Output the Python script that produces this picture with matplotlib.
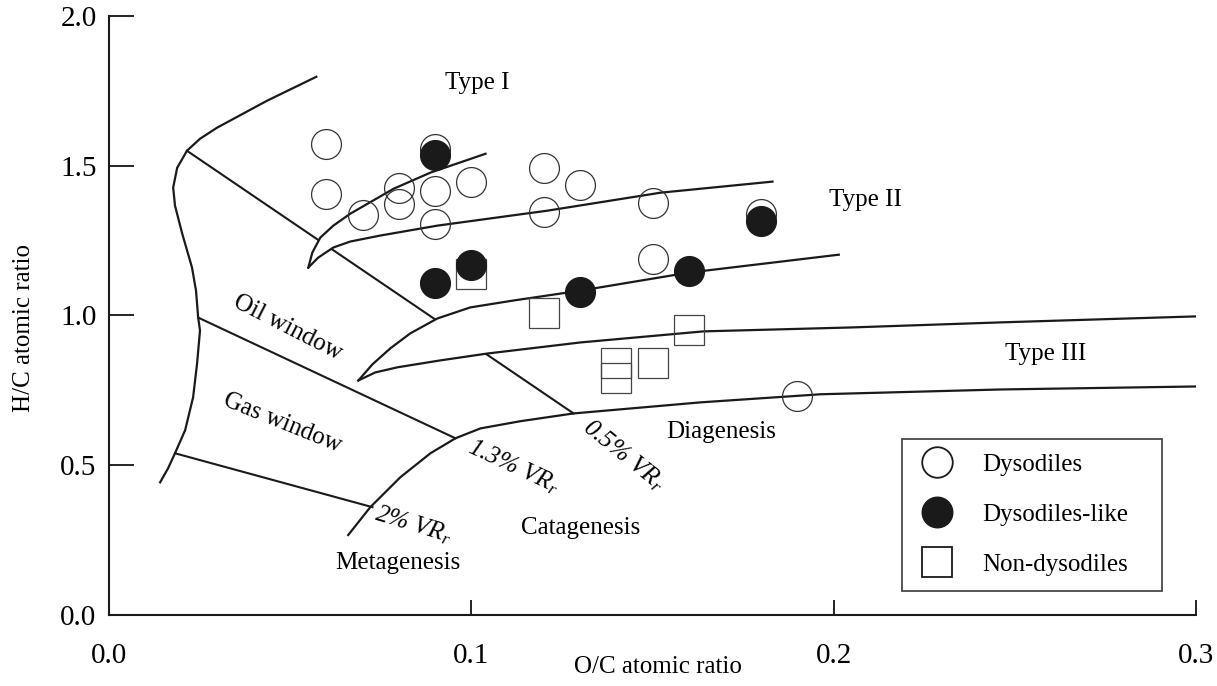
"""
Van Krevelen diagram: H/C vs O/C atomic ratio of dysodiles samples
"""

import numpy as np
import matplotlib
matplotlib.use('Agg')
import matplotlib.pyplot as plt
from matplotlib.lines import Line2D

plt.rcParams['font.family'] = ['Liberation Serif', 'DejaVu Serif']
plt.rcParams['mathtext.fontset'] = 'custom'
plt.rcParams['mathtext.rm'] = 'Liberation Serif'
plt.rcParams['mathtext.it'] = 'Liberation Serif:italic'

# samples (O/C, H/C)
dys_oc = [0.06, 0.06, 0.07, 0.08, 0.08, 0.09, 0.09, 0.09, 0.10, 0.12, 0.12, 0.13, 0.15, 0.15, 0.18, 0.19]
dys_hc = [1.573, 1.407, 1.337, 1.427, 1.373, 1.557, 1.417, 1.307, 1.447, 1.493, 1.347, 1.437, 1.377, 1.19, 1.34, 0.73]

like_oc = [0.09, 0.09, 0.10, 0.13, 0.16, 0.18]
like_hc = [1.537, 1.107, 1.17, 1.077, 1.147, 1.317]

non_oc = [0.10, 0.12, 0.14, 0.14, 0.15, 0.16]
non_hc = [1.137, 1.007, 0.84, 0.79, 0.84, 0.95]

# outer boundary of the evolution paths
bound_x = [0.0141, 0.0163, 0.0182, 0.0210, 0.0232, 0.0243, 0.0251, 0.0246, 0.0240, 0.0229,
           0.0202, 0.0182, 0.0177, 0.0188, 0.0215, 0.0251, 0.0298, 0.0436, 0.0572]
bound_y = [0.443, 0.490, 0.540, 0.617, 0.727, 0.840, 0.950, 0.993, 1.083, 1.160,
           1.273, 1.367, 1.427, 1.493, 1.550, 1.590, 1.627, 1.717, 1.797]

# Type I band
t1_up_x = [0.0550, 0.0561, 0.0583, 0.0619, 0.0666, 0.0785, 0.0887, 0.1039]
t1_up_y = [1.160, 1.210, 1.260, 1.300, 1.340, 1.423, 1.477, 1.540]
t1_lo_x = [0.0550, 0.0577, 0.0619, 0.0666, 0.0749, 0.0906, 0.1210, 0.1522, 0.1831]
t1_lo_y = [1.160, 1.193, 1.227, 1.247, 1.267, 1.300, 1.350, 1.410, 1.447]

# Type II band
t2_up_x = [0.0688, 0.0727, 0.0776, 0.0831, 0.0906, 0.0997, 0.1116, 0.1301, 0.1599, 0.2014]
t2_up_y = [0.783, 0.837, 0.890, 0.940, 0.990, 1.027, 1.050, 1.083, 1.143, 1.203]
t2_lo_x = [0.0688, 0.0735, 0.0796, 0.0914, 0.1044, 0.1301, 0.1641, 0.2047, 0.2461, 0.300]
t2_lo_y = [0.783, 0.810, 0.827, 0.850, 0.873, 0.910, 0.947, 0.960, 0.977, 0.997]

# Type III lower curve
t3_x = [0.0660, 0.0721, 0.0804, 0.0887, 0.0956, 0.1025, 0.1135, 0.1282, 0.1633, 0.1964, 0.2461, 0.300]
t3_y = [0.267, 0.360, 0.460, 0.540, 0.590, 0.623, 0.647, 0.673, 0.710, 0.737, 0.753, 0.763]

# iso-reflectance lines
vr05_x, vr05_y = [0.0215, 0.1282], [1.550, 0.673]
vr13_x, vr13_y = [0.0246, 0.0956], [0.993, 0.590]
vr2_x, vr2_y = [0.0182, 0.0727], [0.540, 0.360]

LC = '#1a1a1a'
FS = 18

fig = plt.figure(figsize=(12.17, 6.86), dpi=100)
ax = fig.add_axes([0.0896, 0.1035, 0.8932, 0.8732])

# reflectance lines go behind the bands
for xs, ys in [(vr05_x, vr05_y), (vr13_x, vr13_y), (vr2_x, vr2_y)]:
    ax.plot(xs, ys, color=LC, lw=1.5, zorder=1)

# white bands hide the 0.5% line inside them
ax.fill(t1_up_x + t1_lo_x[::-1], t1_up_y + t1_lo_y[::-1], color='white', lw=0, zorder=1.5)
ax.fill(t2_up_x + t2_lo_x[::-1], t2_up_y + t2_lo_y[::-1], color='white', lw=0, zorder=1.5)

for xs, ys in [(bound_x, bound_y), (t1_up_x, t1_up_y), (t1_lo_x, t1_lo_y),
               (t2_up_x, t2_up_y), (t2_lo_x, t2_lo_y), (t3_x, t3_y)]:
    ax.plot(xs, ys, color=LC, lw=1.6, zorder=2, solid_joinstyle='round')

# samples
ax.plot(dys_oc, dys_hc, 'o', ms=21.5, mfc='none', mec='#333333', mew=0.9, zorder=3)
ax.plot(non_oc, non_hc, 's', ms=21.5, mfc='none', mec='#444444', mew=0.9, zorder=3)
ax.plot(like_oc, like_hc, 'o', ms=21.5, mfc=LC, mec=LC, mew=0.9, zorder=4)

# labels
ax.text(0.1017, 1.777, 'Type I', fontsize=FS, ha='center', va='center')
ax.text(0.2088, 1.387, 'Type II', fontsize=FS, ha='center', va='center')
ax.text(0.2586, 0.873, 'Type III', fontsize=FS, ha='center', va='center')
ax.text(0.0494, 0.960, 'Oil window', fontsize=FS, ha='center', va='center', rotation=-27)
ax.text(0.0478, 0.640, 'Gas window', fontsize=FS, ha='center', va='center', rotation=-22)
ax.text(0.1116, 0.497, '1.3% VR$_\\mathit{r}$', fontsize=FS, style='italic',
        ha='center', va='center', rotation=-25)
ax.text(0.1420, 0.533, '0.5% VR$_\\mathit{r}$', fontsize=FS, style='italic',
        ha='center', va='center', rotation=-39)
ax.text(0.0840, 0.300, '2% VR$_\\mathit{r}$', fontsize=FS, style='italic',
        ha='center', va='center', rotation=-17)
ax.text(0.0796, 0.173, 'Metagenesis', fontsize=FS, ha='center', va='center')
ax.text(0.1301, 0.290, 'Catagenesis', fontsize=FS, ha='center', va='center')
ax.text(0.1688, 0.610, 'Diagenesis', fontsize=FS, ha='center', va='center')

ax.set_xlim(0, 0.3)
ax.set_ylim(0, 2.0)
ax.set_xticks([0.0, 0.1, 0.2, 0.3])
ax.set_yticks([0.0, 0.5, 1.0, 1.5, 2.0])
ax.set_xticklabels(['0.0', '0.1', '0.2', '0.3'])
ax.set_yticklabels(['0.0', '0.5', '1.0', '1.5', '2.0'])
ax.tick_params(axis='x', direction='in', length=11, width=1.2, pad=20, labelsize=21)
ax.tick_params(axis='y', direction='in', length=18, width=1.2, pad=9, labelsize=21)
for s in ['top', 'right']:
    ax.spines[s].set_visible(False)
for s in ['left', 'bottom']:
    ax.spines[s].set_linewidth(1.5)
    ax.spines[s].set_color(LC)

ax.set_xlabel('O/C atomic ratio', fontsize=FS)
ax.set_ylabel('H/C atomic ratio', fontsize=FS)
ax.xaxis.set_label_coords(0.505, -0.068)
ax.yaxis.set_label_coords(-0.068, 0.479)

handles = [
    Line2D([], [], ls='none', marker='o', ms=22, mfc='none', mec=LC, mew=1.3),
    Line2D([], [], ls='none', marker='o', ms=22, mfc=LC, mec=LC),
    Line2D([], [], ls='none', marker='s', ms=22, mfc='none', mec=LC, mew=1.3),
]
leg = ax.legend(handles, ['Dysodiles', 'Dysodiles-like', 'Non-dysodiles'],
                loc='lower left', bbox_to_anchor=(0.7295, 0.04, 0.2392, 0.3),
                mode='expand', borderaxespad=0,
                fontsize=FS, frameon=True, fancybox=False, edgecolor=LC,
                labelspacing=1.1, handletextpad=1.0, borderpad=0.6, handlelength=1.6)
leg.get_frame().set_linewidth(1.3)

plt.savefig('out.png', dpi=100)
plt.close()
